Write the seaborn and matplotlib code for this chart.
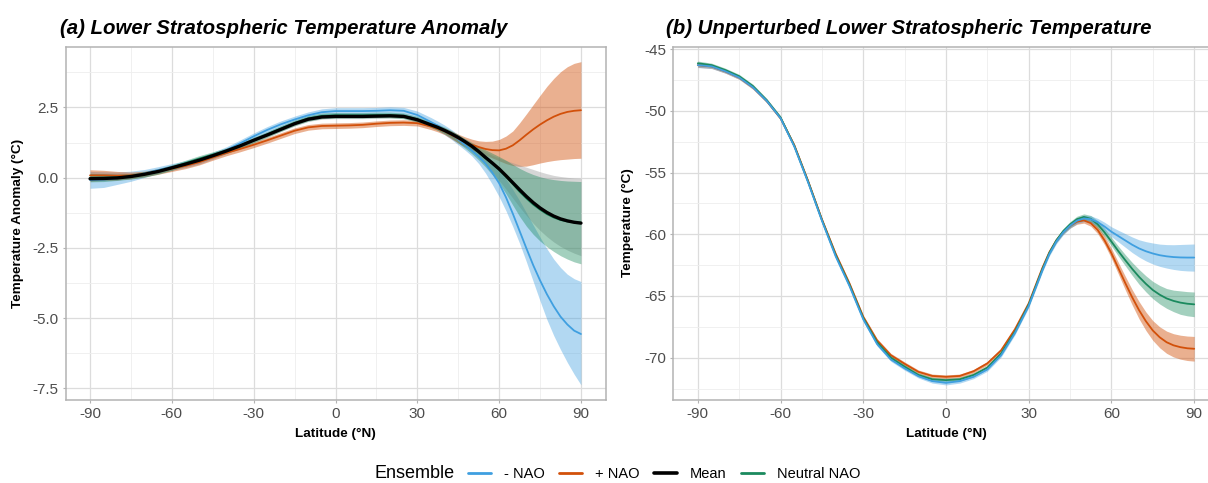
import numpy as np
import pandas as pd
import matplotlib
matplotlib.use("Agg")
import matplotlib.pyplot as plt
from matplotlib.lines import Line2D
import seaborn as sns

# ---------------- data ----------------
LAT = [-90, -85, -80, -75, -70, -65, -60, -55, -50, -45, -40, -35, -30, -25, -20,
       -15, -10, -5, 0, 5, 10, 15, 20, 25, 30, 35,
       37.5, 40, 42.5, 45, 47.5, 50, 52.5, 55, 57.5, 60, 62.5, 65, 67.5, 70,
       72.5, 75, 77.5, 80, 82.5, 85, 87.5, 90]

ENSEMBLES = ["- NAO", "+ NAO", "Mean", "Neutral NAO"]
COLORS = {"- NAO": "#3f9fe0", "+ NAO": "#d2500a", "Mean": "#000000", "Neutral NAO": "#1b8a5e"}

# Panel (a): temperature anomaly (°C) -- line, lower and upper band
a_neg = [-0.08, -0.07, -0.02, 0.05, 0.15, 0.27, 0.38, 0.48, 0.6, 0.78, 0.98, 1.22, 1.47, 1.7, 1.9,
         2.07, 2.22, 2.33, 2.37, 2.37, 2.37, 2.38, 2.4, 2.38, 2.23, 1.98,
         1.85, 1.7, 1.54, 1.36, 1.16, 0.96, 0.75, 0.5, 0.18, -0.2, -0.7, -1.28, -1.9, -2.52,
         -3.12, -3.66, -4.15, -4.58, -4.95, -5.23, -5.45, -5.57]
a_neg_hi = [0.22, 0.21, 0.2, 0.23, 0.29, 0.39, 0.5, 0.6, 0.72, 0.9, 1.1, 1.34, 1.59, 1.82, 2.02,
            2.19, 2.34, 2.45, 2.49, 2.49, 2.49, 2.5, 2.52, 2.5, 2.37, 2.14,
            2.01, 1.87, 1.71, 1.53, 1.35, 1.16, 0.97, 0.77, 0.54, 0.28, -0.05, -0.42, -0.82, -1.25,
            -1.69, -2.12, -2.53, -2.9, -3.2, -3.44, -3.6, -3.7]
a_neg_lo = [-0.38, -0.35, -0.24, -0.13, 0.01, 0.15, 0.26, 0.36, 0.48, 0.66, 0.86, 1.1, 1.35, 1.58, 1.78,
            1.95, 2.1, 2.21, 2.25, 2.25, 2.25, 2.26, 2.28, 2.24, 2.09, 1.82,
            1.68, 1.53, 1.36, 1.17, 0.98, 0.77, 0.5, 0.16, -0.24, -0.68, -1.18, -1.74, -2.34, -3.0,
            -3.7, -4.39, -5.05, -5.62, -6.12, -6.58, -7.0, -7.38]

a_pos = [0.08, 0.08, 0.07, 0.08, 0.13, 0.22, 0.32, 0.42, 0.55, 0.72, 0.88, 1.02, 1.17, 1.33, 1.5,
         1.67, 1.79, 1.84, 1.85, 1.86, 1.88, 1.92, 1.95, 1.96, 1.94, 1.82,
         1.74, 1.65, 1.52, 1.39, 1.27, 1.17, 1.09, 1.02, 0.98, 0.97, 1.03, 1.15, 1.33, 1.53,
         1.72, 1.89, 2.04, 2.17, 2.27, 2.34, 2.38, 2.4]
a_pos_hi = [0.28, 0.26, 0.22, 0.2, 0.23, 0.32, 0.42, 0.52, 0.65, 0.82, 0.98, 1.12, 1.27, 1.43, 1.6,
            1.77, 1.89, 1.94, 1.95, 1.96, 1.98, 2.02, 2.05, 2.06, 2.04, 1.93,
            1.86, 1.77, 1.66, 1.55, 1.45, 1.37, 1.31, 1.29, 1.3, 1.36, 1.48, 1.66, 1.95, 2.27,
            2.6, 2.93, 3.25, 3.53, 3.77, 3.95, 4.07, 4.13]
a_pos_lo = [-0.12, -0.1, -0.08, -0.04, 0.03, 0.12, 0.22, 0.32, 0.45, 0.62, 0.78, 0.92, 1.07, 1.23, 1.4,
            1.57, 1.69, 1.74, 1.75, 1.76, 1.78, 1.82, 1.85, 1.86, 1.84, 1.71,
            1.63, 1.53, 1.38, 1.23, 1.1, 0.98, 0.89, 0.8, 0.7, 0.6, 0.5, 0.43, 0.4, 0.41,
            0.46, 0.52, 0.57, 0.61, 0.64, 0.66, 0.68, 0.69]

a_mean = [-0.04, -0.03, -0.01, 0.04, 0.12, 0.22, 0.35, 0.48, 0.62, 0.78, 0.95, 1.13, 1.33, 1.52, 1.72,
          1.92, 2.08, 2.16, 2.18, 2.18, 2.18, 2.19, 2.2, 2.18, 2.06, 1.88,
          1.79, 1.68, 1.56, 1.43, 1.28, 1.12, 0.93, 0.72, 0.52, 0.31, 0.07, -0.18, -0.43, -0.67,
          -0.89, -1.08, -1.24, -1.37, -1.47, -1.54, -1.59, -1.62]
a_mean_hi = [0.04, 0.05, 0.07, 0.12, 0.2, 0.3, 0.43, 0.56, 0.7, 0.86, 1.03, 1.21, 1.41, 1.6, 1.8,
             2.0, 2.16, 2.24, 2.26, 2.26, 2.26, 2.27, 2.28, 2.26, 2.14, 1.96,
             1.87, 1.77, 1.65, 1.52, 1.38, 1.22, 1.06, 0.92, 0.8, 0.7, 0.61, 0.53, 0.45, 0.37,
             0.29, 0.21, 0.14, 0.08, 0.04, 0.01, -0.01, -0.02]
a_mean_lo = [-0.12, -0.11, -0.09, -0.04, 0.04, 0.14, 0.27, 0.4, 0.54, 0.7, 0.87, 1.05, 1.25, 1.44, 1.64,
             1.84, 2.0, 2.08, 2.1, 2.1, 2.1, 2.11, 2.12, 2.1, 1.98, 1.8,
             1.7, 1.59, 1.46, 1.32, 1.15, 0.95, 0.72, 0.47, 0.2, -0.1, -0.41, -0.73, -1.05, -1.35,
             -1.63, -1.88, -2.1, -2.29, -2.45, -2.58, -2.69, -2.78]

a_neu = [0.0, 0.0, 0.01, 0.05, 0.12, 0.22, 0.36, 0.52, 0.68, 0.82, 0.96, 1.13, 1.34, 1.54, 1.75,
         1.95, 2.11, 2.2, 2.22, 2.22, 2.22, 2.23, 2.23, 2.2, 2.08, 1.88,
         1.79, 1.68, 1.56, 1.42, 1.27, 1.1, 0.9, 0.69, 0.49, 0.28, 0.03, -0.23, -0.5, -0.74,
         -0.96, -1.14, -1.3, -1.42, -1.51, -1.56, -1.59, -1.6]
a_neu_hi = [0.15, 0.14, 0.12, 0.15, 0.22, 0.32, 0.46, 0.62, 0.78, 0.92, 1.06, 1.23, 1.44, 1.64, 1.85,
            2.05, 2.21, 2.3, 2.32, 2.32, 2.32, 2.33, 2.33, 2.3, 2.18, 1.98,
            1.9, 1.8, 1.67, 1.53, 1.39, 1.25, 1.12, 0.99, 0.87, 0.75, 0.62, 0.47, 0.33, 0.21,
            0.11, 0.03, -0.03, -0.07, -0.1, -0.12, -0.13, -0.14]
a_neu_lo = [-0.15, -0.14, -0.1, -0.05, 0.02, 0.12, 0.26, 0.42, 0.58, 0.72, 0.86, 1.03, 1.24, 1.44, 1.65,
            1.85, 2.01, 2.1, 2.12, 2.12, 2.12, 2.13, 2.13, 2.1, 1.98, 1.78,
            1.68, 1.56, 1.41, 1.23, 1.05, 0.85, 0.63, 0.38, 0.1, -0.2, -0.57, -0.98, -1.38, -1.73,
            -2.02, -2.26, -2.46, -2.63, -2.78, -2.9, -3.0, -3.07]

# Panel (b): unperturbed temperature (°C) -- line and band half-width
b_neg = [-46.3, -46.4, -46.8, -47.3, -48.1, -49.2, -50.6, -52.9, -55.8, -58.9, -61.8, -64.2, -66.9,
         -68.9, -70.15, -70.87, -71.5, -71.9, -72.04, -71.9, -71.55, -70.95, -69.8, -68.0, -65.8, -62.9,
         -61.6, -60.6, -59.85, -59.3, -58.9, -58.72, -58.78, -59.02, -59.38, -59.8, -60.15, -60.5,
         -60.85, -61.15, -61.38, -61.56, -61.7, -61.79, -61.85, -61.88, -61.89, -61.89]
b_neg_hw = [0.2, 0.18, 0.15, 0.15, 0.15, 0.15, 0.15, 0.15, 0.15, 0.15, 0.15, 0.15, 0.15, 0.15, 0.15,
            0.15, 0.15, 0.16, 0.17, 0.16, 0.15, 0.15, 0.15, 0.15, 0.15, 0.15,
            0.16, 0.18, 0.2, 0.22, 0.24, 0.25, 0.27, 0.3, 0.35, 0.4, 0.47, 0.55, 0.63, 0.7,
            0.78, 0.85, 0.9, 0.95, 1.0, 1.05, 1.08, 1.1]

b_pos = [-46.3, -46.4, -46.8, -47.3, -48.1, -49.2, -50.6, -52.8, -55.7, -58.8, -61.6, -64.0, -66.7,
         -68.6, -69.8, -70.5, -71.15, -71.48, -71.55, -71.48, -71.1, -70.46, -69.4, -67.7, -65.6, -62.7,
         -61.45, -60.5, -59.8, -59.3, -58.98, -58.88, -59.1, -59.65, -60.5, -61.55, -62.75, -63.95,
         -65.1, -66.15, -67.05, -67.8, -68.35, -68.75, -69.0, -69.15, -69.24, -69.28]
b_pos_hw = [0.18, 0.16, 0.15, 0.15, 0.15, 0.15, 0.15, 0.15, 0.15, 0.15, 0.15, 0.15, 0.15, 0.15, 0.15,
            0.15, 0.15, 0.15, 0.15, 0.15, 0.15, 0.15, 0.15, 0.15, 0.15, 0.15,
            0.16, 0.17, 0.19, 0.2, 0.21, 0.22, 0.25, 0.3, 0.35, 0.4, 0.47, 0.55, 0.62, 0.7,
            0.75, 0.8, 0.85, 0.9, 0.94, 0.97, 0.99, 1.0]

b_neu = [-46.15, -46.3, -46.7, -47.2, -48.0, -49.15, -50.55, -52.85, -55.75, -58.85, -61.7, -64.1, -66.8,
         -68.75, -70.0, -70.73, -71.4, -71.75, -71.82, -71.75, -71.4, -70.8, -69.65, -67.9, -65.7, -62.8,
         -61.5, -60.5, -59.75, -59.2, -58.78, -58.6, -58.75, -59.2, -59.85, -60.6, -61.37, -62.1,
         -62.8, -63.45, -64.02, -64.52, -64.9, -65.2, -65.4, -65.54, -65.63, -65.68]
b_neu_hw = [0.18, 0.16, 0.15, 0.15, 0.15, 0.15, 0.15, 0.15, 0.15, 0.15, 0.15, 0.15, 0.15, 0.15, 0.15,
            0.15, 0.15, 0.15, 0.15, 0.15, 0.15, 0.15, 0.15, 0.15, 0.15, 0.15,
            0.16, 0.18, 0.2, 0.22, 0.24, 0.25, 0.27, 0.3, 0.33, 0.35, 0.4, 0.45, 0.52, 0.6,
            0.65, 0.7, 0.75, 0.8, 0.87, 0.95, 0.98, 1.0]

A_TICKS = [-7.5, -5.0, -2.5, 0.0, 2.5]
B_TICKS = [-70, -65, -60, -55, -50, -45]
X_TICKS = [-90, -60, -30, 0, 30, 60, 90]

# ---------------- style ----------------
sns.set_theme(style="white")
plt.rcParams["font.family"] = ["Liberation Sans", "DejaVu Sans"]
plt.rcParams["axes.unicode_minus"] = False
plt.rcParams["text.color"] = "black"

W, H = 1208, 483
fig = plt.figure(figsize=(W / 100, H / 100), dpi=100)

def px_box(x0, y0, x1, y1):
    return [x0 / W, 1 - y1 / H, (x1 - x0) / W, (y1 - y0) / H]

axA = fig.add_axes(px_box(65.5, 46.5, 605.5, 400))
axB = fig.add_axes(px_box(673, 46.5, 1219, 400))

lat = np.array(LAT, dtype=float)

def style_axes(ax, yticks, yminor, ylim):
    ax.set_xlim(-99, 99)
    ax.set_ylim(*ylim)
    ax.set_xticks(X_TICKS)
    ax.set_xticks([-75, -45, -15, 15, 45, 75], minor=True)
    ax.set_yticks(yticks)
    ax.set_yticks(yminor, minor=True)
    ax.grid(True, which="major", color="#dcdcdc", lw=0.9)
    ax.grid(True, which="minor", color="#eeeeee", lw=0.6)
    ax.set_axisbelow(True)
    for s in ax.spines.values():
        s.set_color("#b3b3b3")
        s.set_linewidth(1.1)
    ax.tick_params(axis="both", which="major", length=2.5, width=0.8, color="#b3b3b3",
                   labelsize=11, labelcolor="#4d4d4d", pad=2.5, bottom=True, left=True)
    ax.tick_params(axis="both", which="minor", length=0)
    ax.set_xlabel("")
    ax.set_ylabel("")

# Panel (a)
series_a = [
    ("- NAO", a_neg, a_neg_lo, a_neg_hi, 0.4),
    ("+ NAO", a_pos, a_pos_lo, a_pos_hi, 0.45),
    ("Mean", a_mean, a_mean_lo, a_mean_hi, 0.35),
    ("Neutral NAO", a_neu, a_neu_lo, a_neu_hi, 0.4),
]
for name, y, lo, hi, al in series_a:
    fill = "#8c8c8c" if name == "Mean" else COLORS[name]
    axA.fill_between(lat, lo, hi, color=fill, alpha=al, lw=0)
for name, y, lo, hi, al in series_a:
    if name == "Mean":
        continue
    sns.lineplot(data=pd.DataFrame({"lat": lat, "val": y}), x="lat", y="val", color=COLORS[name],
                 lw=1.3, ax=axA, estimator=None, sort=False)
sns.lineplot(data=pd.DataFrame({"lat": lat, "val": a_mean}), x="lat", y="val", color="black",
             lw=2.4, ax=axA, estimator=None, sort=False)
style_axes(axA, A_TICKS, [-6.25, -3.75, -1.25, 1.25, 3.75], (-7.92, 4.67))
axA.set_yticklabels([f"{t:.1f}" for t in A_TICKS])

# Panel (b)
series_b = [
    ("+ NAO", b_pos, b_pos_hw, 0.45),
    ("Neutral NAO", b_neu, b_neu_hw, 0.4),
    ("- NAO", b_neg, b_neg_hw, 0.4),
]
for name, y, hw, al in series_b:
    y = np.array(y); hw = np.array(hw)
    axB.fill_between(lat, y - hw, y + hw, color=COLORS[name], alpha=al, lw=0)
for name, y, hw, al in series_b:
    sns.lineplot(data=pd.DataFrame({"lat": lat, "val": y}), x="lat", y="val", color=COLORS[name],
                 lw=1.3, ax=axB, estimator=None, sort=False)
style_axes(axB, B_TICKS, [-72.5, -67.5, -62.5, -57.5, -52.5, -47.5], (-73.43, -44.79))
axB.set_yticklabels([f"{t:d}" for t in B_TICKS])

# Titles and axis labels
fig.text(60 / W, 1 - 28 / H, "(a) Lower Stratospheric Temperature Anomaly", ha="left", va="center",
         fontsize=14.7, fontweight="bold", fontstyle="italic")
fig.text(666 / W, 1 - 28 / H, "(b) Unperturbed Lower Stratospheric Temperature", ha="left", va="center",
         fontsize=14.7, fontweight="bold", fontstyle="italic")
fig.text(335.5 / W, 1 - 434 / H, "Latitude (°N)", ha="center", va="center", fontsize=9.7, fontweight="bold")
fig.text(946 / W, 1 - 434 / H, "Latitude (°N)", ha="center", va="center", fontsize=9.7, fontweight="bold")
fig.text(18 / W, 1 - 223 / H, "Temperature Anomaly (°C)", ha="center", va="center", rotation=90,
         fontsize=9.7, fontweight="bold")
fig.text(628 / W, 1 - 223 / H, "Temperature (°C)", ha="center", va="center", rotation=90,
         fontsize=9.7, fontweight="bold")

# Legend
handles = [Line2D([], [], color=COLORS[n], lw=(2.6 if n == "Mean" else 2.0)) for n in ENSEMBLES]
fig.legend(handles, ENSEMBLES, loc="center", bbox_to_anchor=(664 / W, 1 - 474 / H), ncol=4,
           frameon=False, fontsize=10.5, handlelength=1.6, handletextpad=0.85, columnspacing=1.0,
           borderaxespad=0, borderpad=0)
fig.text(375 / W, 1 - 474 / H, "Ensemble", ha="left", va="center", fontsize=13)

fig.savefig("out.png", dpi=100)
